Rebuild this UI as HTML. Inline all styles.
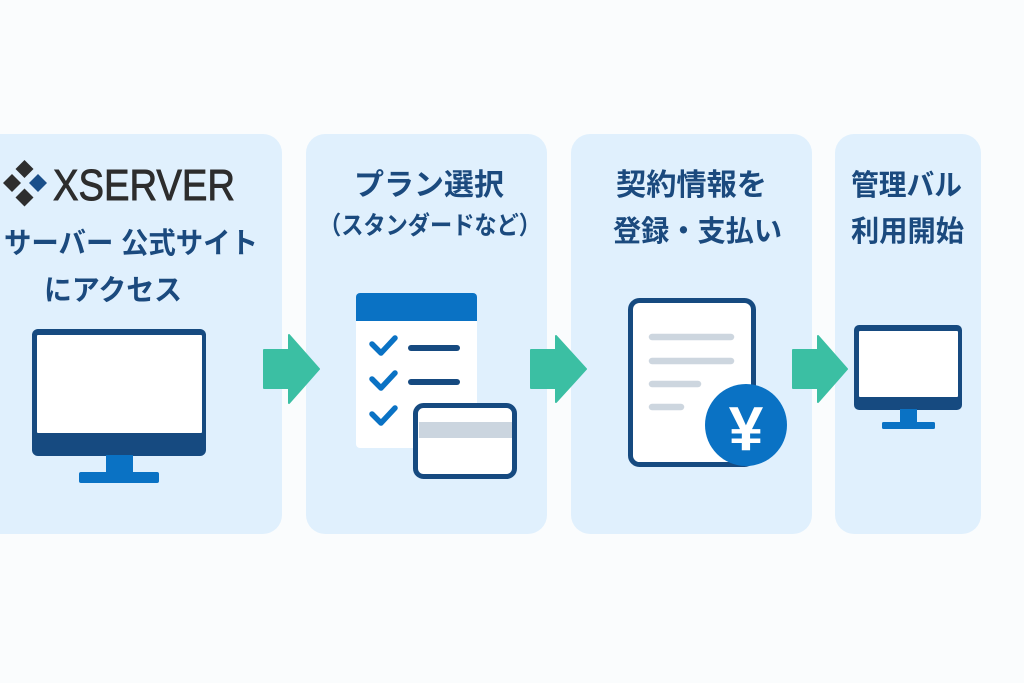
<!DOCTYPE html>
<html><head><meta charset="utf-8"><style>
html,body{margin:0;padding:0;background:#fafcfd;}
svg{display:block;}
.jp{font-family:"Liberation Sans","Noto Sans CJK JP",sans-serif;font-weight:700;fill:#1b4a7e;}
</style></head><body>
<svg width="1024" height="683" viewBox="0 0 1024 683" xmlns="http://www.w3.org/2000/svg">
<rect x="0" y="0" width="1024" height="683" fill="#fafcfd"/>
<!-- panels -->
<rect x="-30" y="134" width="312" height="400" rx="19" fill="#e0f0fd"/>
<rect x="306" y="134" width="241" height="400" rx="19" fill="#e0f0fd"/>
<rect x="571" y="134" width="241" height="400" rx="19" fill="#e0f0fd"/>
<rect x="835" y="134" width="146" height="400" rx="19" fill="#e0f0fd"/>

<!-- XSERVER logo -->
<g>
<polygon points="24.5,160 33.5,169 24.5,178 15.5,169" fill="#2e2e2e"/>
<polygon points="12,174 21,183 12,192 3,183" fill="#2e2e2e"/>
<polygon points="38,174 47,183 38,192 29,183" fill="#1a4f8a"/>
<polygon points="24.5,188.5 33.5,197.5 24.5,206.5 15.5,197.5" fill="#2e2e2e"/>
<text x="53" y="200" font-family="Liberation Sans, sans-serif" font-size="44" fill="#2d2d2d" stroke="#2d2d2d" stroke-width="0.9" textLength="182" lengthAdjust="spacingAndGlyphs">XSERVER</text>
</g>

<!-- panel 1 text -->
<text class="jp" x="4" y="253" font-size="29" textLength="254" lengthAdjust="spacingAndGlyphs">サーバー 公式サイト</text>
<text class="jp" x="44" y="300" font-size="29" textLength="138" lengthAdjust="spacingAndGlyphs">にアクセス</text>

<!-- panel 2 text -->
<text class="jp" x="354" y="195" font-size="30" textLength="150" lengthAdjust="spacingAndGlyphs">プラン選択</text>
<text class="jp" x="430" y="234" font-size="25" text-anchor="middle" textLength="222" lengthAdjust="spacingAndGlyphs">（スタンダードなど）</text>

<!-- panel 3 text -->
<text class="jp" x="616" y="195" font-size="30" textLength="151" lengthAdjust="spacingAndGlyphs">契約情報を</text>
<text class="jp" x="613" y="241" font-size="29" textLength="169" lengthAdjust="spacingAndGlyphs">登録・支払い</text>

<!-- panel 4 text -->
<text class="jp" x="851" y="195" font-size="29" textLength="111" lengthAdjust="spacingAndGlyphs">管理バル</text>
<text class="jp" x="851" y="241" font-size="29" textLength="113" lengthAdjust="spacingAndGlyphs">利用開始</text>

<!-- monitor 1 -->
<rect x="32" y="329" width="174" height="127" rx="6" fill="#164a80"/>
<rect x="37" y="335" width="165" height="98" rx="1" fill="#ffffff"/>
<rect x="106" y="455" width="27" height="18" fill="#0a72c4"/>
<rect x="79" y="472" width="80" height="11" rx="2" fill="#0a72c4"/>

<!-- arrows -->
<g fill="#3bbfa3" stroke="#3bbfa3" stroke-width="2" stroke-linejoin="round">
<polygon points="264,350 289,350 289,335 319,369 289,403 289,388 264,388"/>
<polygon points="531,350 556,350 556,336 586,369 556,402 556,388 531,388"/>
<polygon points="793,350 818,350 818,336 847,369 818,402 818,388 793,388"/>
</g>

<!-- checklist -->
<rect x="356" y="293" width="121" height="155" rx="4" fill="#ffffff"/>
<path d="M356,321 V297 a4,4 0 0 1 4,-4 H473 a4,4 0 0 1 4,4 V321 Z" fill="#0a72c4"/>
<g fill="none" stroke="#0a72c4" stroke-width="5.5" stroke-linecap="round" stroke-linejoin="round">
<polyline points="372,344 381,353 395,338"/>
<polyline points="372,379 381,388 395,373"/>
<polyline points="372,414 381,423 395,408"/>
</g>
<g stroke="#164a80" stroke-width="6" stroke-linecap="round">
<line x1="411" y1="348" x2="457" y2="348"/>
<line x1="411" y1="382" x2="457" y2="382"/>
</g>
<rect x="415.5" y="405.5" width="99" height="71" rx="8" fill="#ffffff" stroke="#164a80" stroke-width="5"/>
<rect x="419" y="422" width="93" height="16" fill="#cbd5df"/>

<!-- document with yen -->
<rect x="630.5" y="300.5" width="123" height="164" rx="9" fill="#ffffff" stroke="#164a80" stroke-width="5"/>
<g stroke="#cdd6df" stroke-width="6.5" stroke-linecap="round">
<line x1="652" y1="337" x2="731" y2="337"/>
<line x1="652" y1="361" x2="731" y2="361"/>
<line x1="652" y1="384" x2="698" y2="384"/>
<line x1="652" y1="407" x2="681" y2="407"/>
</g>
<circle cx="746" cy="425" r="41" fill="#0a72c4"/>
<text x="746" y="450" font-family="Liberation Sans, sans-serif" font-weight="700" font-size="62" fill="#ffffff" text-anchor="middle">¥</text>

<!-- monitor 2 -->
<rect x="854" y="325" width="108" height="85" rx="5" fill="#164a80"/>
<rect x="859" y="331" width="99" height="66" rx="1" fill="#ffffff"/>
<rect x="900" y="409" width="17" height="14" fill="#0a72c4"/>
<rect x="882" y="422" width="53" height="7" rx="1.5" fill="#0a72c4"/>
</svg>
</body></html>
